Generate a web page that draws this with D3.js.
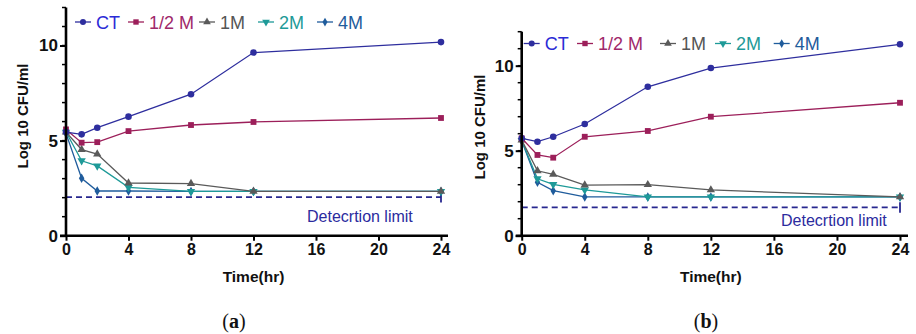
<!DOCTYPE html>
<html>
<head>
<meta charset="utf-8">
<script src="https://cdn.jsdelivr.net/npm/d3@7"></script>
<style>
  body { margin:0; background:#fff; }
  svg { display:block; font-family: "Liberation Sans", Arial, sans-serif; }
</style>
</head>
<body>
<svg id="chart" width="916" height="334"></svg>
<script>
// donnees
var temps = [0, 1, 2, 4, 8, 12, 24];
var series = ["CT", "1/2 M", "1M", "2M", "4M"];
var couleurs = ["#2e2e9e", "#9c1f5a", "#5a5a5a", "#1e9a98", "#1f5c9c"];
var couleursTxt = ["#2b2bd6", "#a0286a", "#555555", "#1e9a98", "#1f5c9c"];
var symboles = [d3.symbolCircle, d3.symbolSquare, d3.symbolTriangle, "triDown", d3.symbolDiamond];

// panneau (a)
var ctA   = [5.45, 5.33, 5.68, 6.26, 7.44, 9.63, 10.18];
var demiA = [5.59, 4.89, 4.92, 5.50, 5.82, 5.98, 6.19];
var unA   = [5.45, 4.53, 4.29, 2.77, 2.74, 2.33, 2.33];
var deuxA = [5.45, 3.94, 3.67, 2.54, 2.33, 2.33, 2.33];
var quatA = [5.38, 3.02, 2.35, 2.35, 2.33, 2.33, 2.33];
var limiteA = 2.03;

// panneau (b)
var ctB   = [5.73, 5.53, 5.82, 6.57, 8.76, 9.86, 11.26];
var demiB = [5.73, 4.75, 4.59, 5.82, 6.16, 7.00, 7.82];
var unB   = [5.62, 3.82, 3.61, 2.98, 3.00, 2.69, 2.28];
var deuxB = [5.60, 3.35, 3.02, 2.69, 2.28, 2.28, 2.28];
var quatB = [5.58, 3.14, 2.65, 2.28, 2.28, 2.28, 2.28];
var limiteB = 1.67;

var xTicks = [0, 4, 8, 12, 16, 20, 24];
var yTicks = [0, 5, 10];
var yMinor = d3.range(0, 13);

var svg = d3.select("#chart");

function panneau(cfg){
  var g = svg.append("g");
  var x = d3.scaleLinear().domain([0, 24]).range([cfg.x0, cfg.x24]);
  var y = d3.scaleLinear().domain([0, 12]).range([cfg.y0, cfg.ytop]);

  // ligne de detection
  g.append("line")
    .attr("x1", x(0)).attr("x2", x(24))
    .attr("y1", y(cfg.limite)).attr("y2", y(cfg.limite))
    .attr("stroke", "#27278f").attr("stroke-width", 1.8)
    .attr("stroke-dasharray", "6,4");
  g.append("line")
    .attr("x1", x(24)).attr("x2", x(24))
    .attr("y1", y(cfg.limite) - 5).attr("y2", y(cfg.limite) + 5.5)
    .attr("stroke", "#27278f").attr("stroke-width", 1.8);
  g.append("text")
    .attr("x", cfg.limX).attr("y", cfg.limY)
    .attr("font-size", 16).attr("fill", "#2b2b9e")
    .text("Detecrtion limit");

  // courbes (ordre inverse pour que CT soit au-dessus)
  var ligne = d3.line().x(function(d, i){ return x(temps[i]); }).y(function(d){ return y(d); });
  for(var s = cfg.data.length - 1; s >= 0; s--){
    var vals = cfg.data[s];
    g.append("path").attr("d", ligne(vals))
      .attr("fill", "none").attr("stroke", couleurs[s]).attr("stroke-width", 1.3);
    g.selectAll(".m" + s).data(vals).enter().append("path")
      .attr("d", marque(s, 1))
      .attr("transform", function(d, i){ return "translate(" + x(temps[i]) + "," + y(d) + ")"; })
      .attr("fill", couleurs[s]);
  }

  // axes
  var ax = g.append("g").attr("transform", "translate(0," + cfg.y0 + ")")
    .call(d3.axisBottom(x).tickValues(xTicks).tickSize(5).tickPadding(3));
  ax.select(".domain").attr("d", "M" + (cfg.x0 - 6) + ",0H" + cfg.xEnd);
  var ay = g.append("g").attr("transform", "translate(" + cfg.x0 + ",0)")
    .call(d3.axisLeft(y).tickValues(yTicks).tickSize(6).tickPadding(2));
  ay.select(".domain").attr("d", "M0," + cfg.y0 + "V" + cfg.ytop);
  g.append("g").attr("transform", "translate(" + cfg.x0 + ",0)")
    .selectAll("line").data(yMinor).enter().append("line")
    .attr("x1", -4).attr("x2", 0).attr("y1", function(d){ return y(d); }).attr("y2", function(d){ return y(d); })
    .attr("stroke", "#000").attr("stroke-width", 1.5);
  [ax, ay].forEach(function(a){
    a.select(".domain").attr("stroke", "#000").attr("stroke-width", 2.6);
    a.selectAll(".tick line").attr("stroke", "#000").attr("stroke-width", 2);
    a.selectAll(".tick text").attr("font-weight", "bold").attr("fill", "#111")
      .style("font-family", "'Liberation Sans', Arial, sans-serif");
  });
  ax.selectAll(".tick text").style("font-size", "16px");
  ay.selectAll(".tick text").style("font-size", "17px");

  g.append("text").attr("x", (cfg.x0 + cfg.x24) / 2).attr("y", 282)
    .attr("text-anchor", "middle").attr("font-size", 15.5).attr("font-weight", "bold")
    .attr("fill", "#111").text("Time(hr)");
  g.append("text").attr("transform", "translate(" + cfg.ylabX + "," + cfg.ylabY + ") rotate(-90)")
    .attr("text-anchor", "middle").attr("font-size", 15).attr("font-weight", "bold")
    .attr("fill", "#111").text("Log 10 CFU/ml");

  // legende
  series.forEach(function(nom, s){
    var lx = cfg.leg[s];
    g.append("line").attr("x1", lx - 8).attr("x2", lx + 8)
      .attr("y1", cfg.legY).attr("y2", cfg.legY)
      .attr("stroke", couleurs[s]).attr("stroke-width", 1.3);
    g.append("path").attr("d", marque(s, 0.85))
      .attr("transform", "translate(" + lx + "," + cfg.legY + ")").attr("fill", couleurs[s]);
    g.append("text").attr("x", lx + 13).attr("y", cfg.legY + 6.5)
      .attr("font-size", 18).attr("fill", couleursTxt[s]).text(nom);
  });

  // legende du panneau
  var cap = svg.append("text").attr("x", cfg.capX).attr("y", 328)
    .attr("text-anchor", "middle").attr("font-size", 20)
    .style("font-family", "'Liberation Serif', 'DejaVu Serif', serif").attr("fill", "#111");
  cap.append("tspan").text("(");
  cap.append("tspan").attr("font-weight", "bold").text(cfg.lettre);
  cap.append("tspan").text(")");
}

function marque(s, k){
  var tailles = [34, 34, 30, 30, 26];
  if(symboles[s] === "triDown"){
    return d3.symbol().type(d3.symbolTriangle).size(tailles[s] * k)().replace(/(-?\d*\.?\d+),(-?\d*\.?\d+)/g, function(m, a, b){ return a + "," + (-b); });
  }
  return d3.symbol().type(symboles[s]).size(tailles[s] * k)();
}

panneau({
  data: [ctA, demiA, unA, deuxA, quatA], limite: limiteA,
  x0: 66, x24: 441, xEnd: 448, y0: 235.7, ytop: 7.5,
  limX: 307, limY: 222, ylabX: 28, ylabY: 116,
  leg: [83, 136, 207, 266, 325], legY: 22,
  capX: 234, lettre: "a"
});
panneau({
  data: [ctB, demiB, unB, deuxB, quatB], limite: limiteB,
  x0: 521.7, x24: 900, xEnd: 908, y0: 235.7, ytop: 31.7,
  limX: 781, limY: 226, ylabX: 485, ylabY: 127,
  leg: [531.7, 585, 668, 723, 781.7], legY: 43.5,
  capX: 706, lettre: "b"
});
</script>
</body>
</html>
